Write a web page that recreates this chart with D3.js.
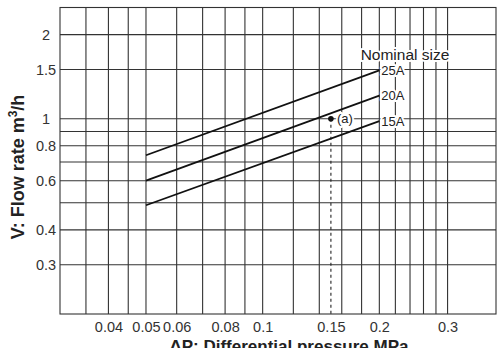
<!DOCTYPE html>
<html>
<head>
<meta charset="utf-8">
<script src="https://cdn.jsdelivr.net/npm/d3@7"></script>
<style>
  body { margin: 0; background: #fff; }
  svg { display: block; font-family: "Liberation Sans", Arial, sans-serif; }
</style>
</head>
<body>
<svg width="498" height="348"></svg>
<script>
// pressure (MPa) vs flow rate (m3/h), log-log
let xGrid = [0.035, 0.04, 0.045, 0.05, 0.06, 0.07, 0.08, 0.09, 0.1, 0.12, 0.14, 0.16, 0.18, 0.2, 0.22, 0.24, 0.26, 0.28, 0.3];
let yGrid = [0.3, 0.4, 0.5, 0.6, 0.7, 0.8, 0.9, 1, 1.5, 2];
let xTicks = [0.04, 0.05, 0.06, 0.08, 0.1, 0.15, 0.2, 0.3];
let yTicks = [0.3, 0.4, 0.6, 0.8, 1, 1.5, 2];

let sizes = ["25A", "20A", "15A"];
let pressure = [0.05, 0.2];
let flow25 = [0.74, 1.49];
let flow20 = [0.6, 1.21];
let flow15 = [0.49, 0.98];

let pointA = { x: 0.15, y: 1.0, label: "(a)" };

let svg = d3.select("svg");
let plotLeft = 60, plotRight = 496, plotTop = 7.5, plotBottom = 314;

let x = d3.scaleLog().domain([0.03, 0.4]).range([plotLeft, plotRight]);
let y = d3.scaleLog().domain([0.2, 2.5]).range([plotBottom, plotTop]);

let grid = svg.append("g").attr("stroke", "#333").attr("stroke-width", 1.1);

grid.selectAll(".vx").data(xGrid).enter().append("line")
    .attr("x1", d => x(d)).attr("x2", d => x(d))
    .attr("y1", plotTop).attr("y2", plotBottom);

grid.selectAll(".hy").data(yGrid).enter().append("line")
    .attr("x1", plotLeft).attr("x2", plotRight)
    .attr("y1", d => y(d)).attr("y2", d => y(d));

grid.append("rect")
    .attr("x", plotLeft).attr("y", plotTop)
    .attr("width", plotRight - plotLeft).attr("height", plotBottom - plotTop)
    .attr("fill", "none");

// tick labels
let axsBottom = d3.axisBottom(x).tickValues(xTicks).tickSize(0).tickPadding(8)
    .tickFormat(d => String(d));
svg.append("g").attr("transform", "translate(0," + plotBottom + ")").call(axsBottom)
    .call(g => g.select(".domain").remove())
    .selectAll("text").attr("font-size", 14.5).attr("fill", "#333")
    .attr("font-family", "Liberation Sans, Arial, sans-serif");

let axsLeft = d3.axisLeft(y).tickValues(yTicks).tickSize(0)
    .tickFormat(d => String(d));
svg.append("g").call(axsLeft)
    .call(g => g.select(".domain").remove())
    .selectAll("text").attr("font-size", 14.5).attr("fill", "#333")
    .attr("text-anchor", "middle").attr("x", 46)
    .attr("font-family", "Liberation Sans, Arial, sans-serif");

// dashed drop line from point (a)
svg.append("line")
    .attr("x1", x(pointA.x)).attr("x2", x(pointA.x))
    .attr("y1", y(pointA.y)).attr("y2", plotBottom)
    .attr("stroke", "#222").attr("stroke-width", 1.1)
    .attr("stroke-dasharray", "3,3");

// flow lines
let series = [flow25, flow20, flow15];
let lineGenerator = d3.line().x((d, i) => x(pressure[i])).y(d => y(d));
svg.append("g").selectAll("path").data(series).enter().append("path")
    .attr("fill", "none").attr("stroke", "#111").attr("stroke-width", 1.8)
    .attr("d", d => lineGenerator(d));

let halo = sel => sel.attr("stroke", "#fff").attr("stroke-width", 4)
    .attr("paint-order", "stroke").attr("stroke-linejoin", "round");

// nominal size labels
svg.append("g").selectAll("text").data(series).enter().append("text")
    .attr("x", x(pressure[1]) + 2)
    .attr("y", d => y(d[1]))
    .attr("dy", "0.36em")
    .attr("font-size", 13).attr("fill", "#222")
    .text((d, i) => sizes[i])
    .call(halo);

svg.append("text")
    .attr("x", 405).attr("y", 54).attr("dy", "0.36em")
    .attr("text-anchor", "middle")
    .attr("font-size", 15.5).attr("fill", "#222")
    .text("Nominal size")
    .call(halo);

// point (a)
svg.append("circle")
    .attr("cx", x(pointA.x)).attr("cy", y(pointA.y)).attr("r", 2.8)
    .attr("fill", "#111");
svg.append("text")
    .attr("x", x(pointA.x) + 6).attr("y", y(pointA.y)).attr("dy", "0.36em")
    .attr("font-size", 13).attr("fill", "#222")
    .text(pointA.label)
    .call(halo);

// axis titles
let ytitle = svg.append("text")
    .attr("transform", "translate(24,167) rotate(-90)")
    .attr("text-anchor", "middle")
    .attr("font-size", 18).attr("font-weight", "bold").attr("fill", "#222");
ytitle.append("tspan").text("V: Flow rate m");
ytitle.append("tspan").attr("font-size", 12).attr("dy", -7).text("3");
ytitle.append("tspan").attr("dy", 7).text("/h");

// reference crops this title at the bottom edge
svg.append("text")
    .attr("x", 289).attr("y", 352)
    .attr("text-anchor", "middle")
    .attr("font-size", 17).attr("font-weight", "bold").attr("fill", "#222")
    .text("\u0394P: Differential pressure MPa");
</script>
</body>
</html>
